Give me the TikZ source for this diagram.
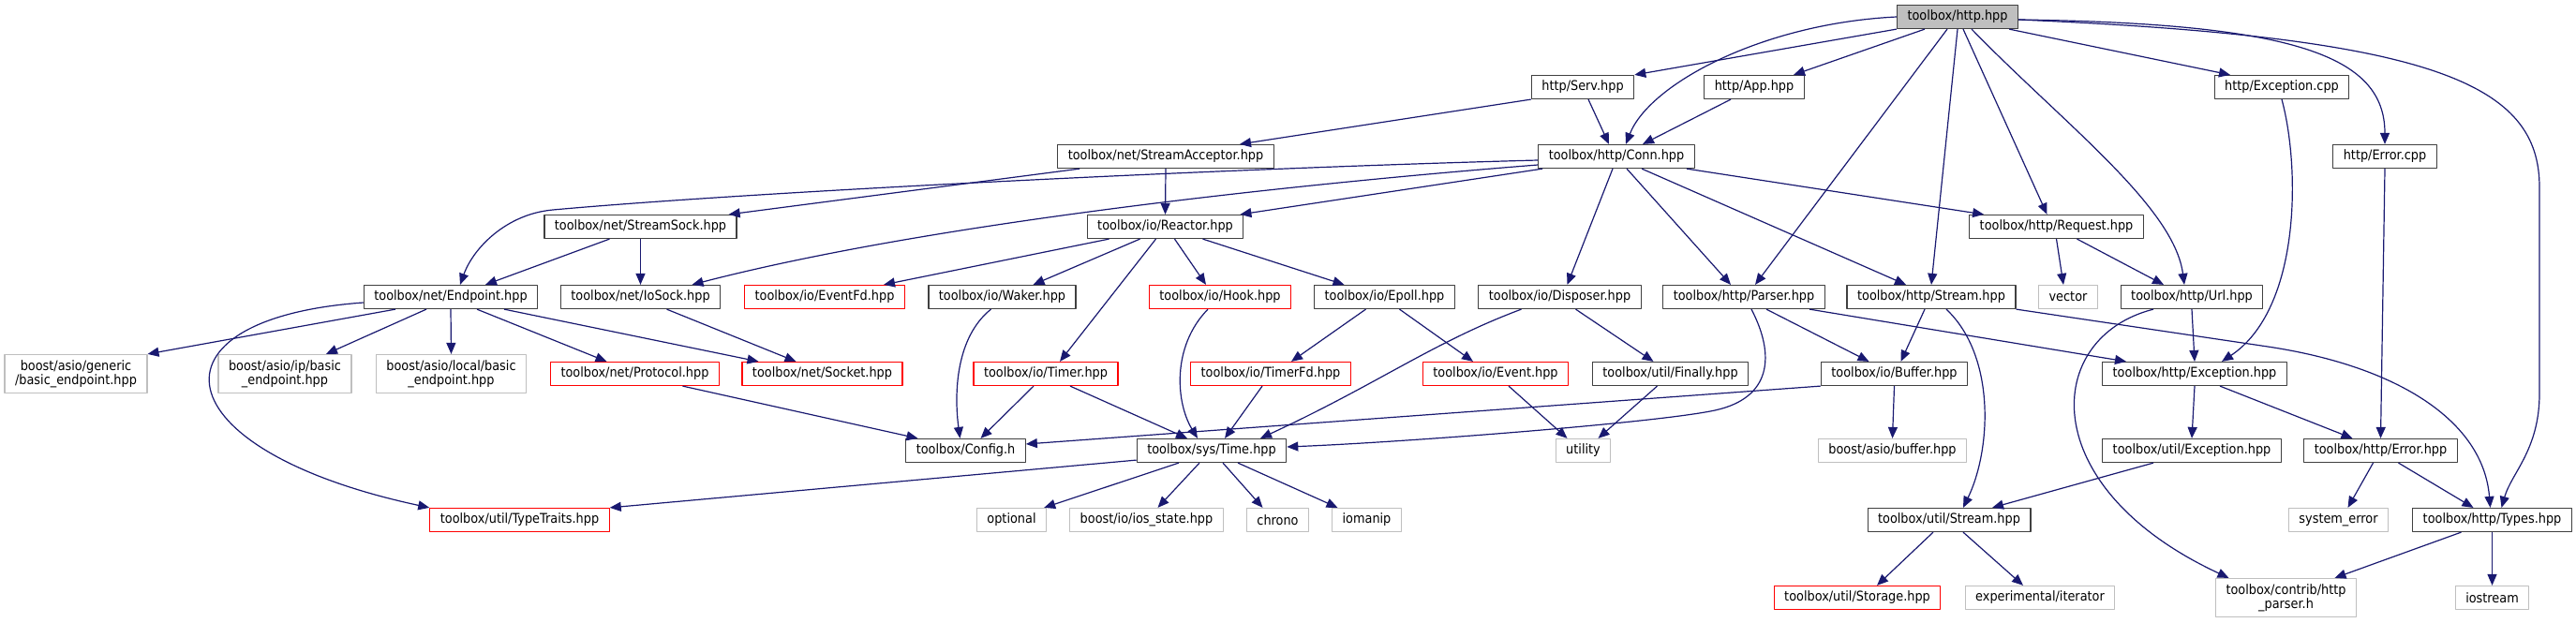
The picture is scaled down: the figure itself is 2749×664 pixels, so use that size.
\documentclass[tikz,border=0pt]{standalone}
\usepackage{fontspec}
\setmainfont{DejaVu Sans}[FakeStretch=0.9]
\usetikzlibrary{arrows.meta}
\definecolor{edgeblue}{HTML}{191970}
\definecolor{rootgray}{HTML}{BFBFBF}
\definecolor{extgray}{HTML}{BFBFBF}
\definecolor{boxgray}{HTML}{404040}
\newcommand\doxfont{\fontsize{14.3}{15}\selectfont}

\begin{document}
\begin{tikzpicture}[x=1pt, y=-1pt, line join=round, >={Triangle[length=12pt,width=10pt]},
	filebox/.style={draw=boxgray, line width=1.2pt, fill=white, inner xsep=11pt, inner ysep=0pt, minimum height=25pt, font=\doxfont, align=center},
	rootbox/.style={filebox, fill=rootgray},
	redbox/.style={filebox, draw=red},
	sysbox/.style={filebox, draw=extgray},
	tall/.style={minimum height=41pt},
	dep/.style={->, draw=edgeblue, line width=1.2pt}]
	\useasboundingbox (0,0) rectangle (2749,664);

	% include levels, top to bottom
	\node[rootbox] (hhttp) at (2089,18) {toolbox/http.hpp};

	\node[filebox] (serv) at (1689,93) {http/Serv.hpp};
	\node[filebox] (app) at (1872,93) {http/App.hpp};
	\node[filebox] (exccpp) at (2435,93) {http/Exception.cpp};

	\node[filebox] (acceptor) at (1244,167) {toolbox/net/StreamAcceptor.hpp};
	\node[filebox] (conn) at (1725,167) {toolbox/http/Conn.hpp};
	\node[filebox] (errcpp) at (2545,167) {http/Error.cpp};

	\node[filebox] (ssock) at (683.5,242) {toolbox/net/StreamSock.hpp};
	\node[filebox] (reactor) at (1243.5,242) {toolbox/io/Reactor.hpp};
	\node[filebox] (request) at (2194.5,242) {toolbox/http/Request.hpp};

	\node[filebox] (endpoint) at (481,317) {toolbox/net/Endpoint.hpp};
	\node[filebox] (iosock) at (683.5,317) {toolbox/net/IoSock.hpp};
	\node[redbox] (eventfd) at (880,317) {toolbox/io/EventFd.hpp};
	\node[filebox] (waker) at (1069.5,317) {toolbox/io/Waker.hpp};
	\node[redbox] (hook) at (1302,317) {toolbox/io/Hook.hpp};
	\node[filebox] (epoll) at (1477.5,317) {toolbox/io/Epoll.hpp};
	\node[filebox] (disposer) at (1664.5,317) {toolbox/io/Disposer.hpp};
	\node[filebox] (parser) at (1861,317) {toolbox/http/Parser.hpp};
	\node[filebox] (hstream) at (2061,317) {toolbox/http/Stream.hpp};
	\node[sysbox] (vector) at (2207,317) {vector};
	\node[filebox] (url) at (2339,317) {toolbox/http/Url.hpp};

	\node[sysbox, tall] (generic) at (81,399) {boost/asio/generic\\/basic\_endpoint.hpp};
	\node[sysbox, tall] (ipep) at (304,399) {boost/asio/ip/basic\\\_endpoint.hpp};
	\node[sysbox, tall] (localep) at (481.5,399) {boost/asio/local/basic\\\_endpoint.hpp};
	\node[redbox] (protocol) at (677.5,399) {toolbox/net/Protocol.hpp};
	\node[redbox] (socket) at (877.5,399) {toolbox/net/Socket.hpp};
	\node[redbox] (timer) at (1116,399) {toolbox/io/Timer.hpp};
	\node[redbox] (timerfd) at (1356,399) {toolbox/io/TimerFd.hpp};
	\node[redbox] (event) at (1596,399) {toolbox/io/Event.hpp};
	\node[filebox] (finally) at (1782.5,399) {toolbox/util/Finally.hpp};
	\node[filebox] (buffer) at (2021.5,399) {toolbox/io/Buffer.hpp};
	\node[filebox] (exchpp) at (2342,399) {toolbox/http/Exception.hpp};

	\node[filebox] (config) at (1030.5,481) {toolbox/Config.h};
	\node[filebox] (systime) at (1293,481) {toolbox/sys/Time.hpp};
	\node[sysbox] (utility) at (1689.5,481) {utility};
	\node[sysbox] (asiobuf) at (2019.5,481) {boost/asio/buffer.hpp};
	\node[filebox] (uexc) at (2339,481) {toolbox/util/Exception.hpp};
	\node[filebox] (errhpp) at (2540.5,481) {toolbox/http/Error.hpp};

	\node[redbox] (traits) at (554.5,555) {toolbox/util/TypeTraits.hpp};
	\node[sysbox] (optional) at (1079.5,555) {optional};
	\node[sysbox] (iosstate) at (1223.5,555) {boost/io/ios\_state.hpp};
	\node[sysbox] (chrono) at (1363.5,555) {chrono};
	\node[sysbox] (iomanip) at (1458.5,555) {iomanip};
	\node[filebox] (ustream) at (2080,555) {toolbox/util/Stream.hpp};
	\node[sysbox] (syserr) at (2495.5,555) {system\_error};
	\node[filebox] (types) at (2659.5,555) {toolbox/http/Types.hpp};

	\node[redbox] (storage) at (1982,638) {toolbox/util/Storage.hpp};
	\node[sysbox] (iterator) at (2177,638) {experimental/iterator};
	\node[sysbox, tall] (httpparser) at (2439.5,638) {toolbox/contrib/http\\\_parser.h};
	\node[sysbox] (iostream) at (2659.5,638) {iostream};

	% toolbox/http.hpp
	\draw[dep] (hhttp.south west) -- (serv.north east);
	\draw[dep] (hhttp.west) .. controls (1880,25) and (1760,90) .. ([xshift=10pt]conn.north);
	\draw[dep] ([xshift=-35pt]hhttp.south) -- ([xshift=42pt]app.north);
	\draw[dep] ([xshift=-11pt]hhttp.south) -- ([xshift=12pt]parser.north);
	\draw[dep] (hhttp.south) -- (hstream.north);
	\draw[dep] ([xshift=6pt]hhttp.south) -- ([xshift=-10pt]request.north);
	\draw[dep] ([xshift=15pt]hhttp.south) .. controls (2200,130) and (2320,220) .. ([xshift=-8pt]url.north);
	\draw[dep] ([xshift=-10pt]hhttp.south east) -- ([xshift=-55pt]exccpp.north);
	\draw[dep] ([yshift=-3pt]hhttp.east) .. controls (2450,25) and (2545,60) .. (errcpp.north);
	\draw[dep] ([yshift=-3pt]hhttp.east) .. controls (2600,40) and (2710,90) .. (2710,200) -- (2710,420)
		.. controls (2710,480) and (2680,505) .. ([xshift=10pt]types.north);

	% http/*.hpp, http/*.cpp
	\draw[dep] (serv.south west) -- ([xshift=79pt]acceptor.north);
	\draw[dep] ([xshift=6pt]serv.south) -- ([xshift=-8pt]conn.north);
	\draw[dep] ([xshift=-25pt]app.south) -- ([xshift=28pt]conn.north);
	\draw[dep] (exccpp.south) .. controls (2455,180) and (2455,330) .. ([xshift=29pt]exchpp.north);
	\draw[dep] (errcpp.south) -- (errhpp.north);

	% net
	\draw[dep] ([xshift=24pt]acceptor.south west) -- ([xshift=-9pt]ssock.north east);
	\draw[dep] (acceptor.south) -- (reactor.north);
	\draw[dep] ([xshift=-33pt]ssock.south) -- ([xshift=37pt]endpoint.north);
	\draw[dep] (ssock.south) -- (iosock.north);
	\draw[dep] ([xshift=28pt]iosock.south) -- ([xshift=-28pt]socket.north);
	\draw[dep] ([xshift=-59pt]endpoint.south) -- (generic.north east);
	\draw[dep] ([xshift=-26pt]endpoint.south) -- ([xshift=44pt]ipep.north);
	\draw[dep] (endpoint.south) -- (localep.north);
	\draw[dep] ([xshift=28pt]endpoint.south) -- ([xshift=-30pt]protocol.north);
	\draw[dep] ([xshift=57pt]endpoint.south) -- ([xshift=-68pt]socket.north);
	\draw[dep] ([yshift=-6pt]endpoint.west) .. controls (150,340) and (170,480) .. (traits.north west);
	\draw[dep] ([xshift=51pt]protocol.south) -- ([xshift=-51pt]config.north);

	% toolbox/http/Conn.hpp
	\draw[dep] ([yshift=-4pt]conn.west) .. controls (1300,180) and (800,205) .. (590,224)
		.. controls (540,228.5) and (505,265) .. ([xshift=10pt]endpoint.north);
	\draw[dep] ([yshift=-9pt]conn.west) .. controls (1400,195) and (1000,236) .. ([xshift=55pt]iosock.north);
	\draw[dep] ([xshift=5pt]conn.south west) -- ([xshift=-4pt]reactor.north east);
	\draw[dep] ([xshift=-4pt]conn.south) -- ([xshift=8pt]disposer.north);
	\draw[dep] ([xshift=11pt]conn.south) -- ([xshift=-14pt]parser.north);
	\draw[dep] ([xshift=27pt]conn.south) -- ([xshift=-27pt]hstream.north);
	\draw[dep] ([xshift=-9pt]conn.south east) -- ([xshift=16pt]request.north west);

	% io
	\draw[dep] ([xshift=-60pt]reactor.south) -- ([xshift=63pt]eventfd.north);
	\draw[dep] ([xshift=-27pt]reactor.south) -- ([xshift=33pt]waker.north);
	\draw[dep] ([xshift=-10pt]reactor.south) -- ([xshift=15pt]timer.north);
	\draw[dep] ([xshift=10pt]reactor.south) -- ([xshift=-15pt]hook.north);
	\draw[dep] ([xshift=40pt]reactor.south) -- ([xshift=-43pt]epoll.north);
	\draw[dep] ([xshift=-12pt]waker.south) .. controls (1020,360) and (1018,420) .. ([xshift=-6pt]config.north);
	\draw[dep] ([xshift=-13pt]hook.south) .. controls (1250,370) and (1255,430) .. ([xshift=-15pt]systime.north);
	\draw[dep] ([xshift=-13pt]timer.south) -- ([xshift=16pt]config.north);
	\draw[dep] ([xshift=26pt]timer.south) -- ([xshift=-26pt]systime.north);
	\draw[dep] ([xshift=-9pt]timerfd.south) -- ([xshift=14pt]systime.north);
	\draw[dep] ([xshift=-20pt]epoll.south) -- ([xshift=22pt]timerfd.north);
	\draw[dep] ([xshift=16pt]epoll.south) -- ([xshift=-24pt]event.north);
	\draw[dep] ([xshift=-41pt]disposer.south) .. controls (1530,365) and (1470,410) .. ([xshift=52pt]systime.north);
	\draw[dep] ([xshift=17pt]disposer.south) -- ([xshift=-18pt]finally.north);
	\draw[dep] ([xshift=14pt]event.south) -- ([xshift=-17pt]utility.north);
	\draw[dep] ([xshift=-14pt]finally.south) -- ([xshift=16pt]utility.north);
	\draw[dep] (buffer.south west) -- ([yshift=7pt]config.east);
	\draw[dep] (buffer.south) -- (asiobuf.north);

	% parser, stream, url
	\draw[dep] ([xshift=8pt]parser.south) .. controls (1895,380) and (1890,425) .. (1830,438)
		.. controls (1770,451) and (1500,472) .. ([yshift=4pt]systime.east);
	\draw[dep] ([xshift=24pt]parser.south) -- ([xshift=-27pt]buffer.north);
	\draw[dep] ([xshift=70pt]parser.south) -- ([xshift=-73pt]exchpp.north);
	\draw[dep] ([xshift=-7pt]hstream.south) -- ([xshift=7pt]buffer.north);
	\draw[dep] ([xshift=16pt]hstream.south) .. controls (2130,380) and (2125,480) .. ([xshift=15pt]ustream.north);
	\draw[dep] (hstream.south east) -- (2420,370) .. controls (2560,391) and (2650,450) .. ([xshift=-2pt]types.north);
	\draw[dep] (request.south) -- ([xshift=-5pt]vector.north);
	\draw[dep] ([xshift=22pt]request.south) -- ([xshift=-30pt]url.north);
	\draw[dep] (url.south) -- (exchpp.north);
	\draw[dep] ([xshift=-41pt]url.south) .. controls (2180,360) and (2170,520) .. ([xshift=-61pt]httpparser.north);

	% exceptions, errors
	\draw[dep] (exchpp.south) -- (uexc.north);
	\draw[dep] ([xshift=27pt]exchpp.south) -- ([xshift=-30pt]errhpp.north);
	\draw[dep] ([xshift=-41pt]uexc.south) -- ([xshift=46pt]ustream.north);
	\draw[dep] ([xshift=-8pt]errhpp.south) -- ([xshift=10pt]syserr.north);
	\draw[dep] ([xshift=19pt]errhpp.south) -- ([xshift=-20pt]types.north);
	\draw[dep] ([xshift=-33pt]types.south) -- ([xshift=52pt]httpparser.north);
	\draw[dep] (types.south) -- (iostream.north);
	\draw[dep] ([xshift=-17pt]ustream.south) -- ([xshift=21pt]storage.north);
	\draw[dep] ([xshift=15pt]ustream.south) -- ([xshift=-18pt]iterator.north);

	% toolbox/sys/Time.hpp
	\draw[dep] ([yshift=3pt]systime.south west) -- (traits.north east);
	\draw[dep] ([xshift=-35pt]systime.south) -- ([xshift=-3pt]optional.north east);
	\draw[dep] ([xshift=-13pt]systime.south) -- ([xshift=12pt]iosstate.north);
	\draw[dep] ([xshift=12pt]systime.south) -- ([xshift=-16pt]chrono.north);
	\draw[dep] ([xshift=28pt]systime.south) -- ([xshift=-31pt]iomanip.north);
\end{tikzpicture}
\end{document}
